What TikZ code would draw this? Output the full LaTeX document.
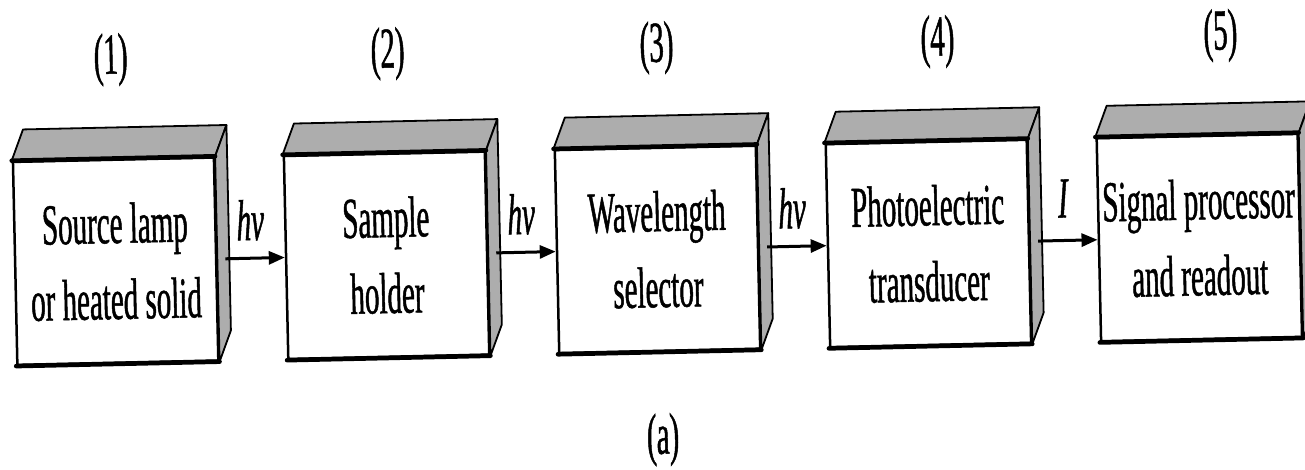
\documentclass[tikz,border=0pt]{standalone}
\usepackage{fontspec}
\setmainfont{Liberation Serif}[FakeStretch=0.5, FakeBold=0.8]
\usetikzlibrary{arrows.meta,calc}
\tikzset{
  frontbox/.style={draw=black, line width=2.5pt, fill=white, minimum width=201pt,
    minimum height=203pt, inner sep=0pt, align=center,
    font=\fontsize{58}{76}\selectfont},
  face/.style={draw=black, line width=1.8pt, fill=black!32, line join=round},
  edge/.style={line width=4.5pt, line cap=round},
  flow/.style={line width=3pt, -{Triangle[length=16pt,width=13pt]}},
  lbl/.style={font=\fontsize{58}{60}\selectfont, inner sep=0pt},
}
\newcommand{\boxfaces}[1]{%
  \draw[face] (#1.north west) -- ++(12,-31) -- ($(#1.north east)+(12,-31)$) -- (#1.north east) -- cycle;
  \draw[face] (#1.north east) -- ++(12,-31) -- ($(#1.south east)+(12,-31)$) -- (#1.south east) -- cycle;
}
\begin{document}
\begin{tikzpicture}[x=1pt,y=-1pt]
\useasboundingbox (0,0) rectangle (1305,469);
\fill[white] (0,0) rectangle (1305,469);
\begin{scope}[rotate around={1.25:(652,250)}, transform shape]
  \node[frontbox] (b1) at (115.5,249.5) {Source lamp\\or heated solid};
  \node[frontbox] (b2) at (386.5,249.5) {Sample\\holder};
  \node[frontbox] (b3) at (657.5,249.5) {Wavelength\\selector};
  \node[frontbox] (b4) at (928.5,249.5) {Photoelectric\\transducer};
  \node[frontbox] (b5) at (1199.5,249.5) {Signal processor\\and readout};
  \foreach \b in {b1,b2,b3,b4,b5}{
    \boxfaces{\b}
    \draw[edge] (\b.north west) -- (\b.north east);
    \draw[edge] (\b.south west) -- (\b.south east);
  }
  \draw[flow] ([xshift=8pt]b1.east) -- (b2.west);
  \draw[flow] ([xshift=8pt]b2.east) -- (b3.west);
  \draw[flow] ([xshift=8pt]b3.east) -- (b4.west);
  \draw[flow] ([xshift=8pt]b4.east) -- (b5.west);
  \node[lbl] (l1) at ($(b1.east)!0.5!(b2.west)+(0,-38)$) {\itshape hν};
  \node[lbl] (l2) at ($(b2.east)!0.5!(b3.west)+(0,-38)$) {\itshape hν};
  \node[lbl] (l3) at ($(b3.east)!0.5!(b4.west)+(0,-38)$) {\itshape hν};
  \node[lbl] (l4) at ($(b4.east)!0.5!(b5.west)+(0,-42)$) {\itshape I};
  \node[lbl] (n1) at (115,48) {(1)};
  \node[lbl] (n2) at (392,48) {(2)};
  \node[lbl] (n3) at (661,48) {(3)};
  \node[lbl] (n4) at (942,48) {(4)};
  \node[lbl] (n5) at (1225,48) {(5)};
  \node[lbl] (cap) at (659,440) {(a)};
\end{scope}
\end{tikzpicture}
\end{document}
